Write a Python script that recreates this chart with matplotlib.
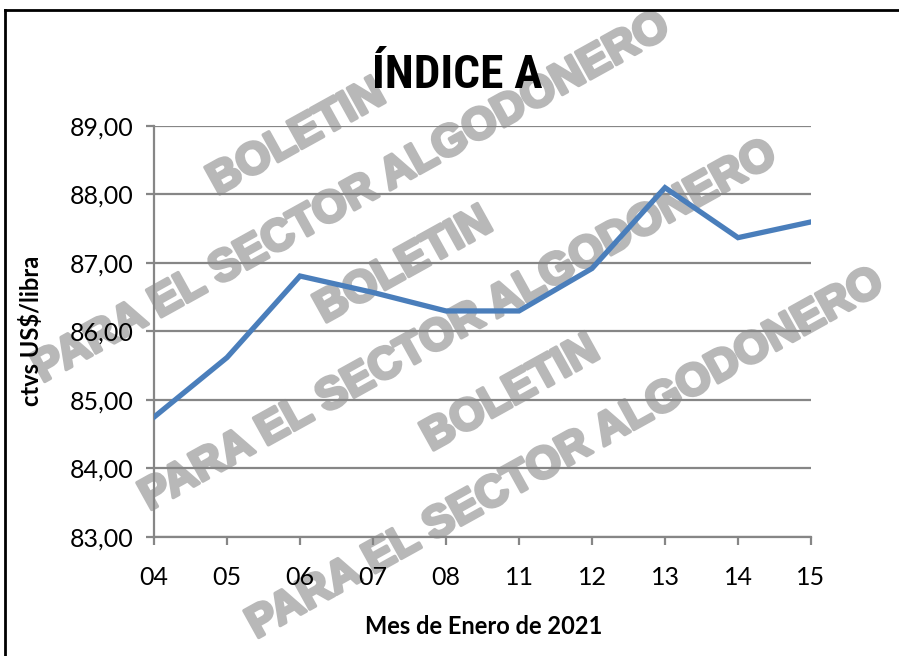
import matplotlib.pyplot as plt
from matplotlib import font_manager
from matplotlib import patheffects
from matplotlib.lines import Line2D

# Datos del gráfico
dias = ["04", "05", "06", "07", "08", "11", "12", "13", "14", "15"]
indice_a = [84.75, 85.62, 86.81, 86.57, 86.30, 86.30, 86.92, 88.10, 87.37, 87.60]
y_ticks = [83, 84, 85, 86, 87, 88, 89]

# Fuentes: una condensada para el título si hay alguna instalada
nombres = {f.name for f in font_manager.fontManager.ttflist}
fuente_titulo = "Lato"
for candidata in ["Liberation Sans Narrow", "Roboto Condensed", "Open Sans Condensed"]:
    if candidata in nombres:
        fuente_titulo = candidata
        break
fuente = "Lato"
tam_titulo = 34 if fuente_titulo != "Lato" else 30

fig = plt.figure(figsize=(8.99, 6.56), dpi=100)
ax = fig.add_axes([154 / 899, 1 - 537 / 656, 657 / 899, 411 / 656])

# Marca de agua (tres bloques repetidos en diagonal), debajo de ejes y línea
angulo = 29
gris = "#b8b8b8"
grueso = [patheffects.withStroke(linewidth=2.5, foreground=gris)]
for dx, dy in [(0, 0), (107, 128), (214, 256)]:
    ax.text((297 + dx) / 899, 1 - (138 + dy) / 656, "BOLETIN",
            transform=fig.transFigure, rotation=angulo, rotation_mode="anchor",
            ha="center", va="center", fontsize=32, fontweight="bold",
            family="Liberation Sans", color=gris, zorder=0.1, clip_on=False,
            path_effects=grueso)
    ax.text((352 + dx) / 899, 1 - (198 + dy) / 656, "PARA EL SECTOR ALGODONERO",
            transform=fig.transFigure, rotation=angulo, rotation_mode="anchor",
            ha="center", va="center", fontsize=32, fontweight="bold",
            family="Liberation Sans", color=gris, zorder=0.1, clip_on=False,
            path_effects=grueso)

# Línea principal
x = list(range(len(dias)))
ax.plot(x, indice_a, color="#4a7ebb", linewidth=3.8, solid_joinstyle="miter", zorder=3)

# Ejes y cuadrícula
ax.set_xlim(0, len(dias) - 1)
ax.set_ylim(83, 89)
ax.set_xticks(x)
ax.set_xticklabels(dias)
ax.set_yticks(y_ticks)
ax.set_yticklabels([f"{v:.2f}".replace(".", ",") for v in y_ticks])
ax.yaxis.grid(True, color="#868686", linewidth=1.6)
ax.set_axisbelow(True)
for lado in ["top", "right"]:
    ax.spines[lado].set_visible(False)
for lado in ["left", "bottom"]:
    ax.spines[lado].set_color("#868686")
    ax.spines[lado].set_linewidth(1.6)
ax.tick_params(axis="both", colors="#868686", width=1.6, length=6, labelcolor="black")
ax.tick_params(axis="y", pad=9)
ax.tick_params(axis="x", pad=15)
for etiqueta in ax.get_xticklabels() + ax.get_yticklabels():
    etiqueta.set_family(fuente)
    etiqueta.set_fontsize(18)

# Títulos
fig.text(457 / 899, 1 - 88 / 656, "ÍNDICE A", ha="center", va="baseline",
         fontsize=tam_titulo, fontweight="bold", family=fuente_titulo, zorder=5)
fig.text(484 / 899, 1 - 626 / 656, "Mes de Enero de 2021", ha="center", va="center",
         fontsize=17, fontweight="bold", family=fuente)
fig.text(31 / 899, 1 - 331 / 656, "ctvs US$/libra", ha="center", va="center",
         rotation=90, fontsize=17, fontweight="bold", family=fuente)

# Marco del gráfico
fig.add_artist(Line2D([5 / 899, 5 / 899], [0, 1 - 10 / 656], color="black", linewidth=2))
fig.add_artist(Line2D([5 / 899, 1], [1 - 10 / 656, 1 - 10 / 656], color="black", linewidth=2))

plt.savefig("out.png", dpi=100)
